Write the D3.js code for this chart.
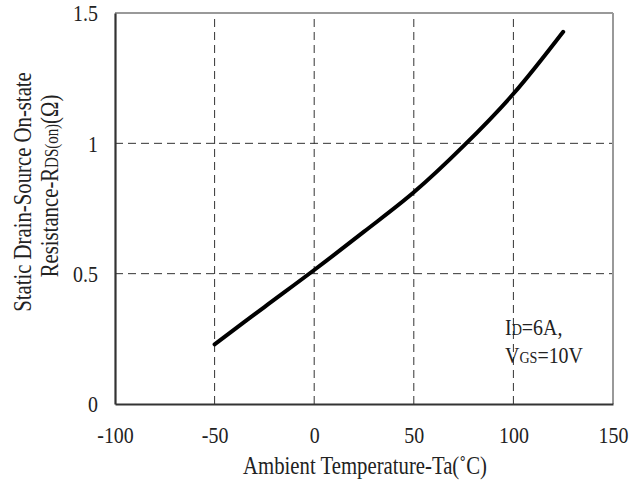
<!DOCTYPE html>
<html>
<head>
<meta charset="utf-8">
<script src="https://cdn.jsdelivr.net/npm/d3@7"></script>
<style>
  html, body { margin: 0; padding: 0; background: #fff; }
  svg { display: block; }
  text { font-family: "Liberation Serif", "Times New Roman", serif; fill: #222; }
</style>
</head>
<body>
<svg id="chart" width="640" height="482"></svg>
<script>
// ---- data ----
const temperatures = [-50, -25, 0, 25, 50, 75, 100, 125];
const rdsOn = [0.229, 0.372, 0.514, 0.661, 0.812, 0.99, 1.19, 1.428];
const xTicks = [-100, -50, 0, 50, 100, 150];
const yTicks = [0, 0.5, 1, 1.5];
const xTitle = "Ambient Temperature-Ta(\u02DAC)";
const yTitle1 = "Static Drain-Source On-state";

// ---- layout ----
const W = 640, H = 482;
const m = { left: 115, right: 27, top: 13, bottom: 78 };
const SX = 0.83; // condensed font look
const TICK_FS = 24, TITLE_FS = 25;
const svg = d3.select("#chart");

const x = d3.scaleLinear().domain([-100, 150]).range([m.left, W - m.right]);
const y = d3.scaleLinear().domain([0, 1.5]).range([H - m.bottom, m.top]);

// grid
const grid = svg.append("g");
grid.selectAll(".vg").data(xTicks.filter(d => d > -100 && d < 150)).join("line")
  .attr("x1", d => x(d)).attr("x2", d => x(d))
  .attr("y1", y(0)).attr("y2", y(1.5))
  .attr("stroke", "#333").attr("stroke-width", 1).attr("stroke-dasharray", "8,5");
grid.selectAll(".hg").data(yTicks.filter(d => d > 0 && d < 1.5)).join("line")
  .attr("x1", x(-100)).attr("x2", x(150))
  .attr("y1", d => y(d)).attr("y2", d => y(d))
  .attr("stroke", "#333").attr("stroke-width", 1).attr("stroke-dasharray", "8,5");

// frame top/right (gray)
svg.append("line").attr("x1", x(-100)).attr("x2", x(150)).attr("y1", y(1.5)).attr("y2", y(1.5))
  .attr("stroke", "#999").attr("stroke-width", 2);
svg.append("line").attr("x1", x(150)).attr("x2", x(150)).attr("y1", y(1.5)).attr("y2", y(0))
  .attr("stroke", "#999").attr("stroke-width", 2);

// axes
const xAxis = svg.append("g").attr("transform", `translate(0,${y(0)})`)
  .call(d3.axisBottom(x).tickValues(xTicks).tickSize(0).tickPadding(22).tickFormat(d => String(d)));
const yAxis = svg.append("g").attr("transform", `translate(${x(-100)},0)`)
  .call(d3.axisLeft(y).tickValues(yTicks).tickSize(0).tickPadding(17).tickFormat(d => String(d)));

[xAxis, yAxis].forEach(a => {
  a.select(".domain").attr("stroke", "#333").attr("stroke-width", 2.2);
  a.selectAll("text").attr("font-size", TICK_FS)
    .attr("font-family", "Liberation Serif, serif").attr("fill", "#222");
});
xAxis.selectAll("text").attr("transform", `scale(${SX},1)`);
yAxis.selectAll("text").attr("x", -17 / SX).attr("transform", `scale(${SX},1)`);

// curve
const line = d3.line().x((d, i) => x(temperatures[i])).y(d => y(d)).curve(d3.curveCatmullRom.alpha(0.5));
svg.append("path").datum(rdsOn).attr("d", line)
  .attr("fill", "none").attr("stroke", "#000").attr("stroke-width", 4)
  .attr("stroke-linecap", "round").attr("stroke-linejoin", "round");

// helper for condensed text
function ctext(px, py, opts) {
  const g = svg.append("g").attr("transform", `translate(${px},${py})${opts.rotate ? " rotate(-90)" : ""} scale(${SX},1)`);
  const t = g.append("text").attr("font-size", opts.size || TITLE_FS).attr("text-anchor", opts.anchor || "middle");
  opts.parts.forEach(p => {
    t.append("tspan").attr("font-size", p.size || opts.size || TITLE_FS).text(p.t);
  });
  return t;
}

// x title
ctext(365, 474, { parts: [{ t: xTitle }] });

// y titles
ctext(31, 192, { rotate: true, parts: [{ t: yTitle1 }] });
ctext(58, 186, { rotate: true, parts: [
  { t: "Resistance-R" }, { t: "DS(on)", size: 18 }, { t: "(\u03A9)" }
] });

// annotation
ctext(505, 335, { anchor: "start", size: 24, parts: [{ t: "I" }, { t: "D", size: 17 }, { t: "=6A," }] });
ctext(505, 363, { anchor: "start", size: 24, parts: [{ t: "V" }, { t: "GS", size: 17 }, { t: "=10V" }] });
</script>
</body>
</html>
